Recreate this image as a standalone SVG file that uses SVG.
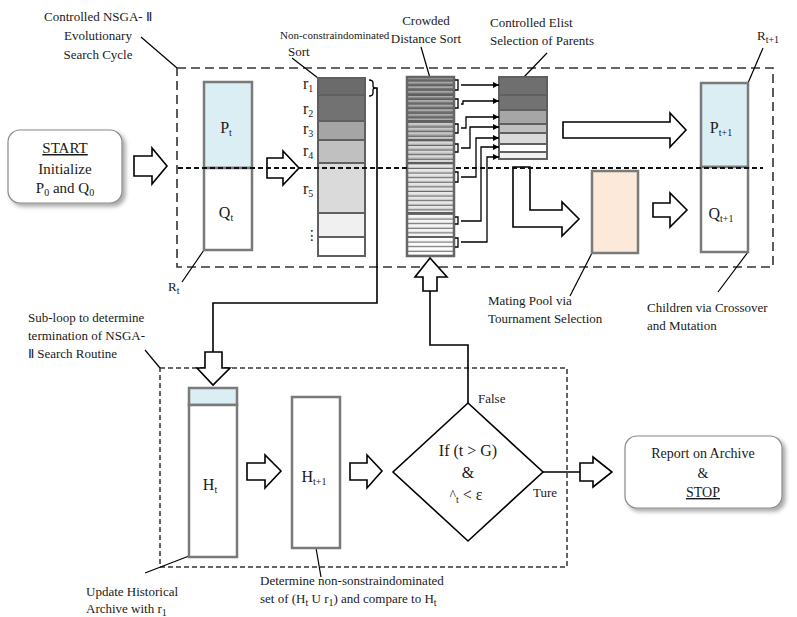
<svg xmlns="http://www.w3.org/2000/svg" width="797" height="617" viewBox="0 0 797 617">
<defs>
<style>
text{font-family:"Liberation Serif","Times New Roman",serif;fill:#1a1a1a}
.lbl{font-size:13px}
.nd{font-size:16px}
.sub{font-size:10px}
.box{stroke:#7a7a7a;stroke-width:2.5}
.row{stroke:#5f5f5f;stroke-width:2}
.blk{fill:#fff;stroke:#000;stroke-width:1.6}
.ln{fill:none;stroke:#000;stroke-width:1.6}
.thin{fill:none;stroke:#000;stroke-width:1.3}
.ldr{fill:none;stroke:#000;stroke-width:1.2}
.dash1{fill:none;stroke:#333;stroke-width:1.6;stroke-dasharray:9 5}
.dash2{fill:none;stroke:#111;stroke-width:2;stroke-dasharray:5 3}
.dash3{fill:none;stroke:#333;stroke-width:1.5;stroke-dasharray:5 3}
.rbox{fill:#fff;stroke:#8a8a8a;stroke-width:1.2}
</style>
<marker id="ah" viewBox="0 0 10 10" refX="10" refY="5" markerWidth="5" markerHeight="5" orient="auto"><path d="M0,0 L10,5 L0,10z" fill="#000"/></marker>
<pattern id="stripes" patternUnits="userSpaceOnUse" x="0" y="77" width="10" height="4.6"><rect width="10" height="2" fill="#fff" fill-opacity="0.4"/><line x1="0" y1="4" x2="10" y2="4" stroke="#5a5a5a" stroke-width="1"/></pattern>
<filter id="sh" x="-10%" y="-10%" width="130%" height="140%"><feDropShadow dx="3" dy="3" stdDeviation="2" flood-color="#000" flood-opacity="0.35"/></filter>
</defs>
<rect width="797" height="617" fill="#fff"/>

<!-- frames -->
<g id="frames">
<rect class="dash1" x="177" y="68" width="596" height="199"/>
<rect class="dash3" x="160" y="368" width="407" height="199"/>
</g>

<!-- annotation labels -->
<g id="labels">
<text class="lbl" text-anchor="middle" x="98" y="21">Controlled NSGA- Ⅱ</text>
<text class="lbl" text-anchor="middle" x="98" y="40">Evolutionary</text>
<text class="lbl" text-anchor="middle" x="98" y="59">Search Cycle</text>
<path class="ldr" d="M141,37 L177,68"/>
<text x="280" y="39" font-size="11">Non-constraindominated</text>
<text class="lbl" x="288" y="56">Sort</text>
<path class="ldr" d="M292,58 L318,78"/>
<text class="lbl" text-anchor="middle" x="426" y="25">Crowded</text>
<text class="lbl" text-anchor="middle" x="426" y="43">Distance Sort</text>
<path class="ldr" d="M421,47 L430,78"/>
<text class="lbl" x="490" y="27">Controlled Elist</text>
<text class="lbl" x="490" y="45">Selection of Parents</text>
<path class="ldr" d="M547,53 L523,78"/>
<text class="lbl" x="757" y="40">R<tspan class="sub" dy="3">t+1</tspan></text>
<path class="ldr" d="M763,48 L748,83"/>
<text class="lbl" x="168" y="291">R<tspan class="sub" dy="3">t</tspan></text>
<path class="ldr" d="M182,282 L204,250"/>
<text class="lbl" x="488" y="305">Mating Pool via</text>
<text class="lbl" x="488" y="323">Tournament Selection</text>
<path class="ldr" d="M570,296 L592,253"/>
<text class="lbl" x="647" y="312">Children via Crossover</text>
<text class="lbl" x="647" y="330">and Mutation</text>
<path class="ldr" d="M718,292 L748,252"/>
<text class="lbl" x="28" y="322">Sub-loop to determine</text>
<text class="lbl" x="28" y="340">termination of  NSGA-</text>
<text class="lbl" x="28" y="358">Ⅱ Search Routine</text>
<path class="ldr" d="M145,350 L160,368"/>
<text class="lbl" x="86" y="596">Update Historical</text>
<text class="lbl" x="86" y="613">Archive with r<tspan class="sub" dy="3">1</tspan></text>
<path class="ldr" d="M145,573 L189,556"/>
<text class="lbl" x="260" y="585">Determine non-sonstraindominated</text>
<text class="lbl" x="260" y="603">set of (H<tspan class="sub" dy="3">t</tspan><tspan dy="-3"> U r</tspan><tspan class="sub" dy="3">1</tspan><tspan dy="-3">) and compare to H</tspan><tspan class="sub" dy="3">t</tspan></text>
<path class="ldr" d="M316,548 L321,577"/>
</g>

<!-- nodes -->
<g id="start">
<rect class="rbox" x="8" y="130" width="114" height="73" rx="12" filter="url(#sh)"/>
<text font-size="15" text-anchor="middle" x="65" y="153" text-decoration="underline">START</text>
<text font-size="15" text-anchor="middle" x="65" y="174">Initialize</text>
<text font-size="15" text-anchor="middle" x="65" y="193">P<tspan class="sub" dy="3">0</tspan><tspan dy="-3"> and Q</tspan><tspan class="sub" dy="3">0</tspan></text>
</g>

<g id="Rt">
<rect class="box" x="204" y="82" width="48" height="86" fill="#dbeef4"/>
<rect class="box" x="204" y="168" width="48" height="82" fill="#fff"/>
<text class="nd" text-anchor="middle" x="226" y="133">P<tspan class="sub" dy="3">t</tspan></text>
<text class="nd" text-anchor="middle" x="226" y="218">Q<tspan class="sub" dy="3">t</tspan></text>
</g>

<g id="nondom-sort">
<rect class="row" x="318" y="78" width="47" height="17" fill="#6b6b6b"/>
<rect class="row" x="318" y="95" width="47" height="26" fill="#727272"/>
<rect class="row" x="318" y="121" width="47" height="19" fill="#a5a5a5"/>
<rect class="row" x="318" y="140" width="47" height="23" fill="#c0c0c0"/>
<rect class="row" x="318" y="163" width="47" height="50" fill="#dadada"/>
<rect class="row" x="318" y="213" width="47" height="24" fill="#f0f0f0"/>
<rect class="row" x="318" y="237" width="47" height="19" fill="#fff"/>
<text class="nd" x="303" y="89">r<tspan class="sub" dy="3">1</tspan></text>
<text class="nd" x="303" y="114">r<tspan class="sub" dy="3">2</tspan></text>
<text class="nd" x="303" y="134">r<tspan class="sub" dy="3">3</tspan></text>
<text class="nd" x="303" y="156">r<tspan class="sub" dy="3">4</tspan></text>
<text class="nd" x="303" y="194">r<tspan class="sub" dy="3">5</tspan></text>
<text x="305" y="240" style="font-family:'DejaVu Sans',sans-serif;font-size:14px">⋮</text>
<path class="thin" d="M369,80 q4,0 4,3 v3 q0,2 3,2 q-3,0 -3,2 v3 q0,3 -4,3"/>
</g>

<g id="crowded-sort">
<rect x="407" y="77" width="47" height="18" fill="#6b6b6b"/>
<rect x="407" y="95" width="47" height="26" fill="#727272"/>
<rect x="407" y="121" width="47" height="19" fill="#a5a5a5"/>
<rect x="407" y="140" width="47" height="23" fill="#c0c0c0"/>
<rect x="407" y="163" width="47" height="50" fill="#dadada"/>
<rect x="407" y="213" width="47" height="24" fill="#f0f0f0"/>
<rect x="407" y="237" width="47" height="19" fill="#fafafa"/>
<rect x="407" y="77" width="47" height="179" fill="url(#stripes)"/>
<path d="M407,95 H454 M407,121 H454 M407,140 H454 M407,163 H454 M407,213 H454 M407,237 H454" stroke="#5f5f5f" stroke-width="2"/>
<rect x="407" y="77" width="47" height="179" fill="none" stroke="#666" stroke-width="2.5"/>
<path class="thin" d="M455,80 h3 v10 h-3 M455,99 h3 v9 h-3 M455,124 h3 v9 h-3 M455,144 h3 v8 h-3 M455,172 h3 v10 h-3 M455,217 h3 v7 h-3 M455,238 h3 v9 h-3"/>
</g>

<g id="elitist-selection">
<rect class="row" x="499" y="77" width="48" height="18" fill="#6f6f6f"/>
<rect class="row" x="499" y="95" width="48" height="15" fill="#727272"/>
<rect class="row" x="499" y="110" width="48" height="14" fill="#a6a6a6"/>
<rect class="row" x="499" y="124" width="48" height="9" fill="#c0c0c0"/>
<rect class="row" x="499" y="133" width="48" height="11" fill="#dadada"/>
<rect class="row" x="499" y="144" width="48" height="8" fill="#fff"/>
<rect class="row" x="499" y="152" width="48" height="7" fill="#f0f0f0"/>
</g>

<g id="mating-pool">
<rect class="box" x="592" y="171" width="46" height="82" fill="#fde9d9"/>
</g>

<g id="Rt1">
<rect class="box" x="701" y="83" width="47" height="84" fill="#dbeef4"/>
<rect class="box" x="701" y="167" width="47" height="85" fill="#fff"/>
<text class="nd" text-anchor="middle" x="721" y="133">P<tspan class="sub" dy="3">t+1</tspan></text>
<text class="nd" text-anchor="middle" x="721" y="219">Q<tspan class="sub" dy="3">t+1</tspan></text>
</g>

<g id="Ht">
<rect class="box" x="189" y="388" width="48" height="17" fill="#dbeef4"/>
<rect class="box" x="189" y="405" width="48" height="152" fill="#fff"/>
<text class="nd" text-anchor="middle" x="210" y="490">H<tspan class="sub" dy="3">t</tspan></text>
</g>

<g id="Ht1">
<rect class="box" x="292" y="397" width="48" height="151" fill="#fff"/>
<text class="nd" text-anchor="middle" x="314" y="482">H<tspan class="sub" dy="3">t+1</tspan></text>
</g>

<g id="decision">
<polygon points="468,403 543,472 468,541 393,472" fill="#fff" stroke="#000" stroke-width="1.6"/>
<text class="nd" text-anchor="middle" x="468" y="456">If (t &gt; G)</text>
<text class="nd" text-anchor="middle" x="468" y="478">&amp;</text>
<text class="nd" text-anchor="middle" x="466" y="500"><tspan font-size="14">^</tspan><tspan class="sub" dy="3">t</tspan><tspan dy="-3"> &lt; ε</tspan></text>
<text class="lbl" x="478" y="403">False</text>
<text class="lbl" x="533" y="497">Ture</text>
</g>

<g id="report">
<rect class="rbox" x="625" y="436" width="157" height="72" rx="12" filter="url(#sh)"/>
<text font-size="14" text-anchor="middle" x="703" y="458">Report on Archive</text>
<text font-size="14" text-anchor="middle" x="703" y="478">&amp;</text>
<text font-size="14" text-anchor="middle" x="703" y="497" text-decoration="underline">STOP</text>
</g>

<!-- connectors -->
<g id="connectors">
<polygon class="blk" points="134,156 152,156 152,148 167,166 152,184 152,176 134,176"/>
<polygon class="blk" points="267,158 283,158 283,151 299,168 283,185 283,178 267,178"/>
<polygon class="blk" points="563,122 670,122 670,113 686,130 670,147 670,138 563,138"/>
<polygon class="blk" points="653,203 670,203 670,193 687,210 670,227 670,217 653,217"/>
<polygon class="blk" points="513,167 530,167 530,210 562,210 562,202 579,219 562,236 562,227 513,227"/>
<polygon class="blk" points="247,463 265,463 265,455 281,471 265,488 265,480 247,480"/>
<polygon class="blk" points="350,463 367,463 367,455 382,471 367,488 367,480 350,480"/>
<polygon class="blk" points="580,463 593,463 593,457 612,472 593,487 593,481 580,481"/>
<polygon class="blk" points="205,352 222,352 222,368 230,368 213,385 197,368 205,368"/>
<polygon class="blk" points="423,291 437,291 437,277 447,277 430,258 415,277 423,277"/>
<path class="ln" d="M376,88 H377 V303 H213 V352"/>
<path class="ln" d="M430,291 V345 H468 V403"/>
<path class="ln" d="M543,472 H580"/>
<path class="thin" marker-end="url(#ah)" d="M461,85 H499"/>
<path class="thin" marker-end="url(#ah)" d="M461,104 H463 V101 H499"/>
<path class="thin" marker-end="url(#ah)" d="M461,128 H466 V117 H499"/>
<path class="thin" marker-end="url(#ah)" d="M461,148 H470 V127 H499"/>
<path class="thin" marker-end="url(#ah)" d="M461,177 H476 V138 H499"/>
<path class="thin" marker-end="url(#ah)" d="M461,221 H481 V147 H499"/>
<path class="thin" marker-end="url(#ah)" d="M461,242 H487 V157 H499"/>
</g>

<g id="divider">
<path class="dash2" d="M178,168 H407 M456,168 H763"/>
</g>
</svg>
